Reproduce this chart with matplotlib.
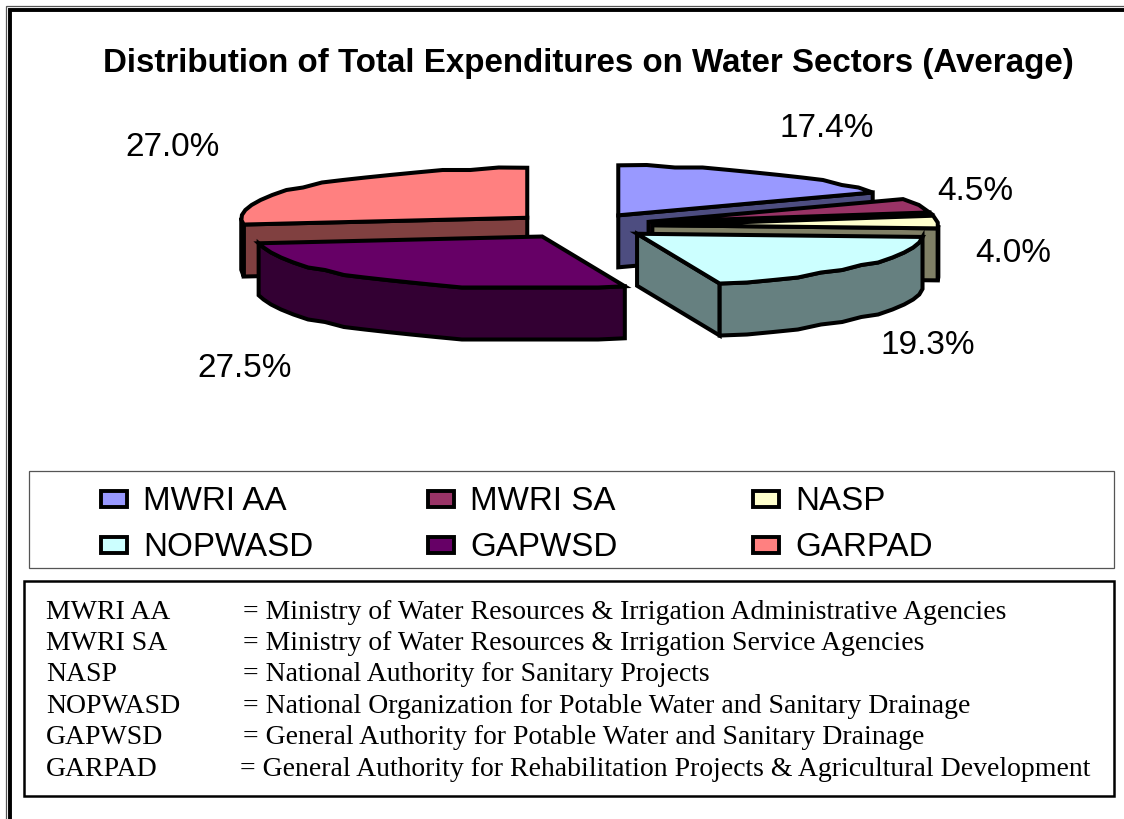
import numpy as np
import matplotlib
matplotlib.use("Agg")
import matplotlib.pyplot as plt
from matplotlib.patches import Polygon, Rectangle

TITLE = "Distribution of Total Expenditures on Water Sectors (Average)"
categories = ["MWRI AA", "MWRI SA", "NASP", "NOPWASD", "GAPWSD", "GARPAD"]
values = [17.4, 4.5, 4.0, 19.3, 27.5, 27.0]
top_colors = ["#9999FF", "#993366", "#FFFFCC", "#CCFFFF", "#660066", "#FF8080"]
side_colors = ["#4D4D80", "#4D1933", "#808066", "#668080", "#330033", "#804040"]
descriptions = [
    "= Ministry of Water Resources & Irrigation Administrative Agencies",
    "= Ministry of Water Resources & Irrigation Service Agencies",
    "= National Authority for Sanitary Projects",
    "= National Organization for Potable Water and Sanitary Drainage",
    "= General Authority for Potable Water and Sanitary Drainage",
    "= General Authority for Rehabilitation Projects & Agricultural Development",
]

fig = plt.figure(figsize=(11.24, 8.19), dpi=100)
ax = fig.add_axes([0, 0, 1, 1])
ax.set_xlim(0, 1124)
ax.set_ylim(819, 0)
ax.axis("off")

SANS = "Liberation Sans"
SERIF = "Liberation Serif"

# outer frame
ax.plot([5.5, 5.5, 1124], [819, 5.5, 5.5], color="#555555", lw=0.9, solid_joinstyle="miter")
ax.plot([9.5, 9.5, 1124], [819, 9.5, 9.5], color="black", lw=2.8, solid_joinstyle="miter")

ax.text(588.5, 72, TITLE, family=SANS, weight="bold", fontsize=23.85, ha="center", va="baseline")

# exploded 3D pie
CX, CY, RX, RY_BACK, RY_FRONT, DEPTH, EXPLODE = 581, 226, 286, 50, 52, 52, 0.25
LW = 2.9
total = sum(values)
bounds = np.concatenate([[0], np.cumsum(values)]) / total * 360


def pt(a):
    r = np.radians(a)
    return np.sin(r), -np.cos(r)


def arc(a0, a1, ox, oy):
    n = max(2, int(abs(a1 - a0) / 5.5) + 1)
    aa = np.linspace(a0, a1, n)
    r = np.radians(aa)
    c = np.cos(r)
    xs = ox + RX * np.sin(r)
    ys = oy - np.where(c > 0, RY_BACK, RY_FRONT) * c
    ys[1:-1] = np.round(ys[1:-1] / 2.5) * 2.5
    return np.column_stack([xs, ys])


order = [5, 0, 1, 2, 3, 4]
for i in order:
    a0, a1 = bounds[i], bounds[i + 1]
    mid = (a0 + a1) / 2
    mx, my = pt(mid)
    ox, oy = CX + EXPLODE * RX * mx, CY + EXPLODE * RY_BACK * my
    top = arc(a0, a1, ox, oy)
    apex = np.array([ox, oy])
    down = np.array([0, DEPTH])
    face = dict(facecolor=side_colors[i], edgecolor="black", lw=LW, joinstyle="miter")
    # radial cut faces that look towards the viewer
    if np.sin(np.radians(a0)) < -1e-6:
        ax.add_patch(Polygon([apex, top[0], top[0] + down, apex + down], **face))
    if np.sin(np.radians(a1)) > 1e-6:
        ax.add_patch(Polygon([apex, top[-1], top[-1] + down, apex + down], **face))
    # rim
    f0, f1 = max(a0, 90), min(a1, 270)
    if f1 > f0:
        rim = arc(f0, f1, ox, oy)
        ax.add_patch(Polygon(np.vstack([rim, (rim + down)[::-1]]), **face))
    ax.add_patch(Polygon(np.vstack([apex, top]), facecolor=top_colors[i],
                         edgecolor="black", lw=LW, joinstyle="miter"))

label_xy = [(827, 137), (975, 200), (1013, 262), (928, 354), (245, 377), (173, 156)]
for v, (x, y) in zip(values, label_xy):
    ax.text(x, y, f"{v:.1f}%", family=SANS, fontsize=24.0, ha="center", va="baseline")

# legend
ax.add_patch(Rectangle((28.5, 471), 1085.5, 97, fill=False, edgecolor="#555555", lw=0.9))
col_x = [99, 426, 751]
row_y = [510, 556]
for i, name in enumerate(categories):
    x = col_x[i % 3]
    y = row_y[i // 3]
    ax.add_patch(Rectangle((x + 1.5, y - 19.5), 26.5, 16, facecolor=top_colors[i],
                           edgecolor="black", lw=2.8))
    ax.text(x + 44, y, name, family=SANS, fontsize=23.85, ha="left", va="baseline")

# key box
ax.add_patch(Rectangle((24, 581), 1090, 215, fill=False, edgecolor="black", lw=1.8))
key_y = [618.7, 649.7, 680.7, 712.7, 743.7, 775.7]
key_x = [243, 243, 243, 243, 243, 240]
for name, desc, y, dx in zip(categories, descriptions, key_y, key_x):
    ax.text(46, y, name, family=SERIF, fontsize=19.95, ha="left", va="baseline")
    ax.text(dx, y, desc, family=SERIF, fontsize=19.95, ha="left", va="baseline")

fig.savefig("out.png", dpi=100)
